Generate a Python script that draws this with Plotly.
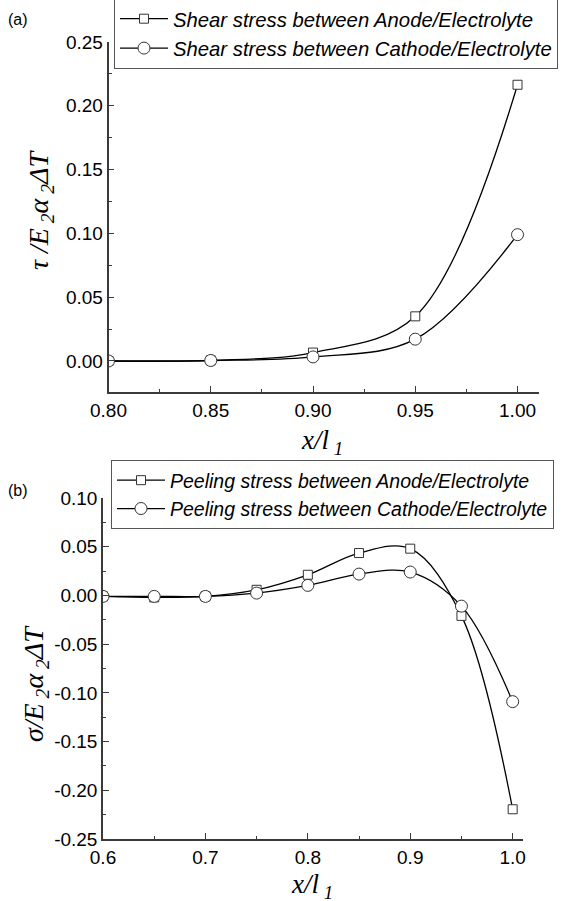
import plotly.graph_objects as go

# ---- data ----
x_a = [0.80, 0.85, 0.90, 0.95, 1.00]
shear_anode = [0.0, 0.0005, 0.0066, 0.035, 0.2165]
shear_cathode = [0.0, 0.0004, 0.0032, 0.0171, 0.0990]

x_b = [0.60, 0.65, 0.70, 0.75, 0.80, 0.85, 0.90, 0.95, 1.00]
peel_anode = [-0.001, -0.002, -0.001, 0.0058, 0.0212, 0.0435, 0.048, -0.021, -0.2195]
peel_cathode = [-0.001, -0.001, -0.001, 0.0024, 0.0103, 0.0219, 0.024, -0.011, -0.109]

ya_ticks = [0.00, 0.05, 0.10, 0.15, 0.20, 0.25]
ya_ticktext = ["0.00", "0.05", "0.10", "0.15", "0.20", "0.25"]
xa_ticks = [0.80, 0.85, 0.90, 0.95, 1.00]
xa_ticktext = ["0.80", "0.85", "0.90", "0.95", "1.00"]
yb_ticks = [-0.25, -0.20, -0.15, -0.10, -0.05, 0.00, 0.05, 0.10]
yb_ticktext = ["-0.25", "-0.20", "-0.15", "-0.10", "-0.05", "0.00", "0.05", "0.10"]
xb_ticks = [0.6, 0.7, 0.8, 0.9, 1.0]
xb_ticktext = ["0.6", "0.7", "0.8", "0.9", "1.0"]

names_a = ["Shear stress between Anode/Electrolyte", "Shear stress between Cathode/Electrolyte"]
names_b = ["Peeling stress between Anode/Electrolyte", "Peeling stress between Cathode/Electrolyte"]

W, H = 569, 901
SANS = "Liberation Sans, Arial, sans-serif"
SERIF = "Liberation Serif, Times New Roman, serif"
AXC = "#3a3a3a"

fig = go.Figure()

def add(x, y, name, symbol, size, xa, ya, legend):
    fig.add_trace(go.Scatter(
        x=x, y=y, name=name, mode="lines+markers",
        line=dict(color="black", width=1.3, shape="spline", smoothing=1.0),
        marker=dict(symbol=symbol, size=size, color="white",
                    line=dict(color="#333333", width=1)),
        xaxis=xa, yaxis=ya, legend=legend, cliponaxis=True,
    ))

add(x_a, shear_anode, names_a[0], "square", 9, "x", "y", "legend")
add(x_a, shear_cathode, names_a[1], "circle", 12, "x", "y", "legend")
add(x_b, peel_anode, names_b[0], "square", 9, "x2", "y2", "legend2")
add(x_b, peel_cathode, names_b[1], "circle", 12, "x2", "y2", "legend2")

def px_x(p):
    return p / W

def px_y(p):
    return 1 - p / H

common = dict(
    showline=True, linecolor=AXC, linewidth=1.5, mirror=False,
    ticks="inside", ticklen=6, tickwidth=1.2, tickcolor=AXC,
    showgrid=False, zeroline=False, automargin=False,
    tickfont=dict(family=SANS, size=19, color="black"),
)

fig.update_layout(
    width=W, height=H,
    margin=dict(l=0, r=0, t=0, b=0, autoexpand=False),
    paper_bgcolor="white", plot_bgcolor="white",
    showlegend=True,
    xaxis=dict(domain=[px_x(108.5), px_x(539)], range=[0.8, 1.0105], anchor="y",
               tickvals=xa_ticks, ticktext=xa_ticktext,
               minor=dict(ticks="inside", ticklen=3.5, tickcolor=AXC, dtick=0.025, tick0=0.8), **common),
    yaxis=dict(domain=[px_y(392), px_y(42)], range=[-0.0243, 0.25], anchor="x",
               tickvals=ya_ticks, ticktext=ya_ticktext,
               minor=dict(ticks="inside", ticklen=3.5, tickcolor=AXC, dtick=0.025, tick0=0.0), **common),
    xaxis2=dict(domain=[px_x(103), px_x(523)], range=[0.6, 1.0101], anchor="y2",
                tickvals=xb_ticks, ticktext=xb_ticktext,
                minor=dict(ticks="inside", ticklen=3.5, tickcolor=AXC, dtick=0.05, tick0=0.6), **common),
    yaxis2=dict(domain=[px_y(839), px_y(498)], range=[-0.25, 0.10], anchor="x2",
                tickvals=yb_ticks, ticktext=yb_ticktext,
                minor=dict(ticks="inside", ticklen=3.5, tickcolor=AXC, dtick=0.025, tick0=0.0), **common),
    legend=dict(x=px_x(114), y=px_y(69), xanchor="left", yanchor="bottom",
                bordercolor="#555555", borderwidth=1, bgcolor="white",
                font=dict(family=SANS, size=20.3, color="black", style="italic"),
                itemwidth=48, tracegroupgap=0),
    legend2=dict(x=px_x(111), y=px_y(529), xanchor="left", yanchor="bottom",
                 bordercolor="#555555", borderwidth=1, bgcolor="white",
                 font=dict(family=SANS, size=19.5, color="black", style="italic"),
                 itemwidth=48, tracegroupgap=0),
)

def note(text, xp, yp, size, family, italic=False, angle=0):
    font = dict(family=family, size=size, color="black")
    if italic:
        font["style"] = "italic"
    return dict(text=text, x=px_x(xp), y=px_y(yp), xref="paper", yref="paper",
                xanchor="center", yanchor="middle", showarrow=False,
                textangle=angle, font=font)

ann = [
    note("(a)", 18, 19, 16, SANS),
    note("(b)", 18, 491, 16, SANS),
    note("τ /E<sub> 2</sub>α<sub> 2</sub>ΔT", 40, 210, 28, SERIF, True, -90),
    note("σ/E<sub> 2</sub>α<sub> 2</sub>ΔT", 35, 684, 28, SERIF, True, -90),
    note("x/l<sub> 1</sub>", 322, 442, 27, SERIF, True),
    note("x/l<sub> 1</sub>", 312, 886, 27, SERIF, True),
]
fig.update_layout(annotations=ann)

fig.write_html("out.html")
